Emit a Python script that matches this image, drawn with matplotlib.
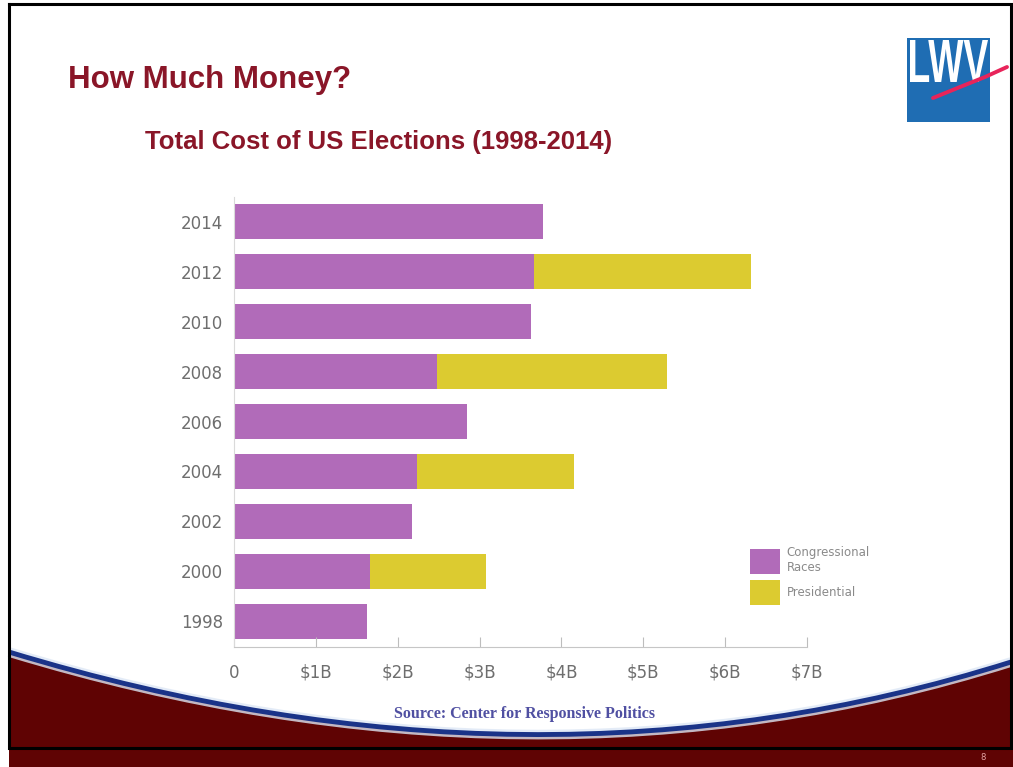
import matplotlib.pyplot as plt
from matplotlib.path import Path
from matplotlib.patches import PathPatch, Rectangle
from matplotlib.textpath import TextPath
from matplotlib.font_manager import FontProperties
from matplotlib.transforms import Affine2D
import numpy as np

# election cost, billions of dollars
years = ['1998', '2000', '2002', '2004', '2006', '2008', '2010', '2012', '2014']
congressional = [1.62, 1.66, 2.18, 2.23, 2.85, 2.48, 3.63, 3.67, 3.78]
presidential = [0, 1.42, 0, 1.92, 0, 2.81, 0, 2.64, 0]
xticklabels = ['0', '\\$1B', '\\$2B', '\\$3B', '\\$4B', '\\$5B', '\\$6B', '\\$7B']

purple = '#b16bb9'
yellow = '#dccb30'
maroon = '#5f0303'
titlecolor = '#8a1628'

fig = plt.figure(figsize=(10.13, 7.67), dpi=100, facecolor='white')

# slide background drawn in pixel units
bg = fig.add_axes([0, 0, 1, 1], zorder=0)
bg.set_xlim(0, 1013)
bg.set_ylim(767, 0)
bg.axis('off')

curve = Path([(9, 652), (535, 812), (1011, 662), (1011, 748), (9, 748), (9, 652)],
             [Path.MOVETO, Path.CURVE3, Path.CURVE3, Path.LINETO, Path.LINETO,
              Path.CLOSEPOLY])
bg.add_patch(PathPatch(curve, fc=maroon, ec='none'))
arc = Path([(9, 652), (535, 812), (1011, 662)],
           [Path.MOVETO, Path.CURVE3, Path.CURVE3])
bg.add_patch(PathPatch(arc, fc='none', ec='#dde7f5', lw=7, alpha=0.8))
bg.add_patch(PathPatch(arc, fc='none', ec='#1a3388', lw=3.5))
bg.add_patch(Rectangle((9, 749), 1004, 18, fc=maroon, ec='none'))
bg.plot([9, 1011, 1011, 9, 9], [4, 4, 748, 748, 4], color='black', lw=2.2,
        solid_joinstyle='miter')

# titles
bg.text(68, 88, 'How Much Money?', fontsize=22.5, fontweight='bold',
        family='Liberation Sans', color=titlecolor, va='baseline')
bg.text(145, 149, 'Total Cost of US Elections (1998-2014)', fontsize=18.5,
        fontweight='bold', family='Liberation Sans', color=titlecolor,
        va='baseline')
bg.text(524, 714, 'Source: Center for Responsive Politics', fontsize=11.5,
        fontweight='bold', family='Liberation Serif', color='#5050a2',
        ha='center', va='center')
bg.text(983, 757, '8', fontsize=6, color='#e3a3a3', ha='center', va='center')

# logo
bg.add_patch(Rectangle((907, 38), 83, 84, fc='#1f6db3', ec='none'))
tp = TextPath((0, 0), 'LWV', prop=FontProperties(family='Liberation Sans',
                                                 weight='bold'))
ext = tp.get_extents()
sx = 78 / ext.width
sy = 42 / ext.height
tr = Affine2D().translate(-ext.x0, -ext.y0).scale(sx, -sy).translate(910, 82)
bg.add_patch(PathPatch(tr.transform_path(tp), fc='white', ec='none'))
bg.plot([933, 960, 985, 1007], [98, 87, 77, 67], color='#e8245a', lw=2.8,
        solid_capstyle='round')

# chart
ax = fig.add_axes([234 / 1013, 1 - 647 / 767, 573 / 1013, 450 / 767], zorder=2)
ax.patch.set_alpha(0)
ypos = np.arange(len(years))
ax.barh(ypos, congressional, height=0.7, color=purple,
        label='Congressional\nRaces')
ax.barh(ypos, presidential, height=0.7, left=congressional, color=yellow,
        label='Presidential')
ax.set_xlim(0, 7)
ax.set_ylim(-0.52, 8.5)
ax.set_yticks(ypos)
ax.set_yticklabels(years)
ax.set_xticks(range(8))
ax.set_xticklabels(xticklabels)
ax.tick_params(axis='x', direction='in', length=7, color='#bdbdbd',
               labelcolor='#6e6e6e', labelsize=12, pad=12)
ax.tick_params(axis='y', length=0, labelcolor='#6e6e6e', labelsize=12, pad=8)
for side in ['top', 'right']:
    ax.spines[side].set_visible(False)
ax.spines['left'].set_color('#dadada')
ax.spines['bottom'].set_color('#c6c6c6')

ax.legend(loc='upper left', bbox_to_anchor=(750 / 1013, 1 - 546 / 767),
          bbox_transform=fig.transFigure, frameon=False, fontsize=8.5,
          handlelength=2.5, handleheight=2.9, handletextpad=0.6,
          labelspacing=0.5, borderpad=0, borderaxespad=0, labelcolor='#8a8a8a')

fig.savefig('out.png', dpi=100, facecolor='white')
